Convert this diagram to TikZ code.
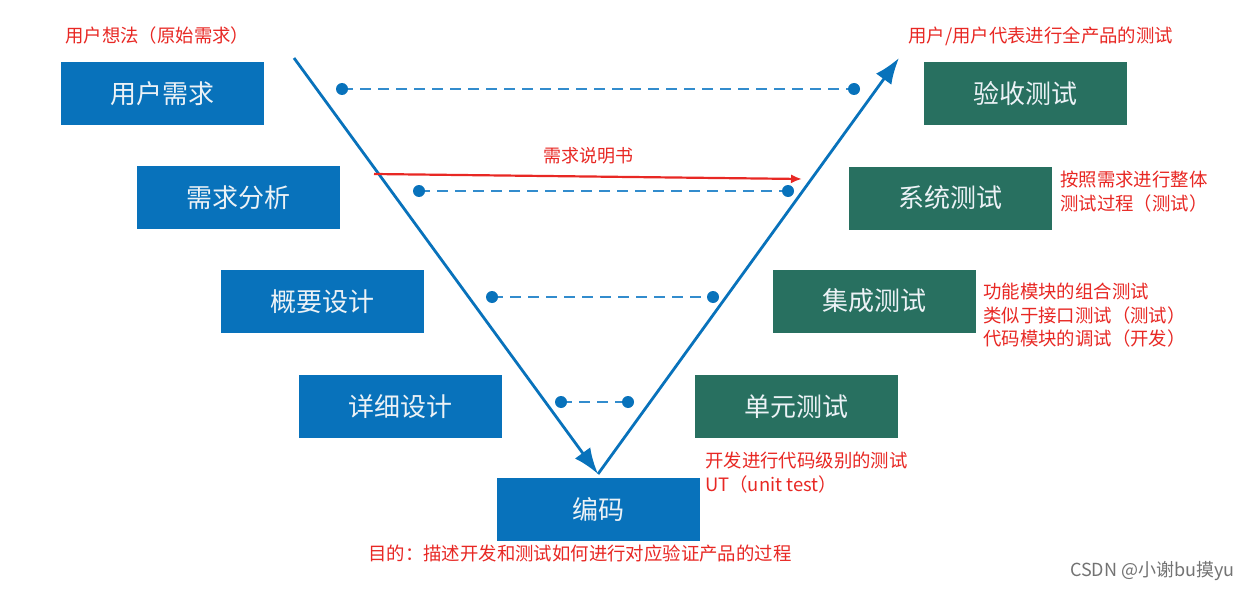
\documentclass[tikz,border=0pt]{standalone}
\usepackage{fontspec}
\newfontfamily\cjk{Noto Sans CJK SC}
\usetikzlibrary{arrows.meta}
\definecolor{vblue}{RGB}{8,114,187}
\definecolor{vgreen}{RGB}{40,112,96}
\definecolor{vdash}{RGB}{50,140,205}
\definecolor{vred}{RGB}{232,40,36}
\definecolor{boxtxt}{RGB}{236,242,246}
\tikzset{
  devbox/.style={fill=vblue, minimum width=203pt, minimum height=63pt, inner sep=0pt,
    text=boxtxt, font=\cjk\fontsize{26}{30}\selectfont},
  testbox/.style={devbox, fill=vgreen},
  note/.style={text=vred, font=\cjk\fontsize{18.4}{23.5}\selectfont, align=left, inner sep=0pt, anchor=west},
  vline/.style={draw=vblue, line width=2.8pt, -{Latex[length=26pt,width=19pt]}},
  pairline/.style={draw=vdash, line width=1.5pt, dash pattern=on 11pt off 7pt},
  dotc/.style={fill=vblue},
}
\begin{document}
\begin{tikzpicture}[x=1pt,y=-1pt]
\useasboundingbox (0,0) rectangle (1255,591);
\fill[white] (0,0) rectangle (1255,591);
% boxes
\node[devbox] (ur) at (162.5,93.5) {用户需求};
\node[devbox] (ra) at (238.5,197.5) {需求分析};
\node[devbox] (hd) at (322.5,301.5) {概要设计};
\node[devbox] (dd) at (400.5,406.5) {详细设计};
\node[devbox] (cd) at (598.5,509.5) {编码};
\node[testbox] (at) at (1025,93.5) {验收测试};
\node[testbox] (st) at (950.5,198) {系统测试};
\node[testbox] (it) at (874.5,301) {集成测试};
\node[testbox] (ut) at (796.5,406.5) {单元测试};
% V shape
\coordinate (vl) at (294,58);
\coordinate (vb) at (598,474);
\coordinate (vr) at (899,58);
\draw[vline] (vl) -- (vb);
\draw[vline] (vb) -- (vr);
% dashed pairs
\coordinate (a1) at (342,89); \coordinate (b1) at (854,89);
\coordinate (a2) at (419,191); \coordinate (b2) at (788,191);
\coordinate (a3) at (492,297); \coordinate (b3) at (713,297);
\coordinate (a4) at (561,402); \coordinate (b4) at (628,402);
\foreach \i in {1,2,3,4}{
  \draw[pairline] (a\i) -- (b\i);
  \fill[dotc] (a\i) circle (6pt);
  \fill[dotc] (b\i) circle (6pt);
}
% red arrow
\coordinate (rs) at (374,174);
\coordinate (re) at (802,179);
\draw[vred, line width=2.2pt, -{Latex[length=11pt,width=9pt]}] (rs) -- (re)
  node[midway, above=8pt, text=vred, font=\cjk\fontsize{18}{20}\selectfont] (rl) {需求说明书};
% notes
\node[note] (n1) at (65,36) {用户想法（原始需求）};
\node[note] (n2) at (908,36) {用户/用户代表进行全产品的测试};
\node[note] (n3) at (1060,191.5) {按照需求进行整体\\测试过程（测试）};
\node[note] (n4) at (983,315.5) {功能模块的组合测试\\类似于接口测试（测试）\\代码模块的调试（开发）};
\node[note] (n5) at (705,472.5) {开发进行代码级别的测试\\UT（unit test）};
\node[note] (n6) at (368,553) {目的：描述开发和测试如何进行对应验证产品的过程};
\node[anchor=west, inner sep=0pt, text=black!55, font=\cjk\fontsize{18}{20}\selectfont] (wm) at (1070,571) {CSDN @小谢bu摸yu};
\end{tikzpicture}
\end{document}
